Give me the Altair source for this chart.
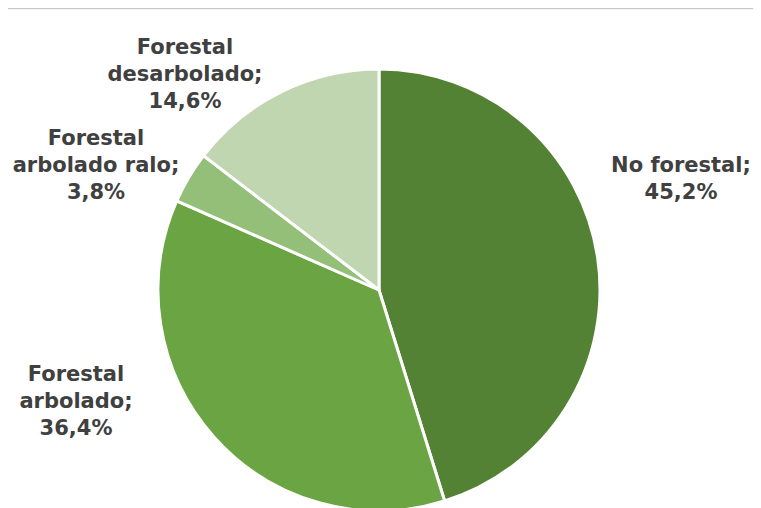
import altair as alt
import pandas as pd

categories = ["No forestal", "Forestal arbolado", "Forestal arbolado ralo", "Forestal desarbolado"]
values = [45.2, 36.4, 3.8, 14.6]
colors = ["#548235", "#6aa443", "#94bf78", "#bfd6b0"]

df = pd.DataFrame({"categoria": categories, "pct": values, "orden": list(range(len(categories)))})

W, H = 745, 500
CX, CY, R = 371, 282, 221

pie = alt.Chart(df).mark_arc(stroke="white", strokeWidth=3, radius=R).encode(
    theta=alt.Theta("pct:Q", stack=True),
    order=alt.Order("orden:Q", sort="ascending"),
    color=alt.Color("categoria:N", scale=alt.Scale(domain=categories, range=colors), legend=None),
    x=alt.value(CX),
    y=alt.value(CY),
)


def label_lines(cat, v):
    pct = f"{v:.1f}".replace(".", ",") + "%"
    if cat.startswith("Forestal "):
        return ["Forestal", cat[len("Forestal "):] + ";", pct]
    return [cat + ";", pct]


# label anchor positions (layout only)
label_pos = {
    "No forestal": (673, 158),
    "Forestal arbolado": (68, 367),
    "Forestal arbolado ralo": (88, 131),
    "Forestal desarbolado": (177, 40),
}

layers = [pie]
for cat, v in zip(categories, values):
    lx, ly = label_pos[cat]
    layers.append(
        alt.Chart(df[df.categoria == cat]).mark_text(
            font="DejaVu Sans", fontWeight="bold", fontSize=21, lineHeight=27,
            color="#404040", align="center", baseline="middle",
            text=label_lines(cat, v),
        ).encode(x=alt.value(lx), y=alt.value(ly))
    )

top_line = alt.Chart(df.head(1)).mark_rule(color="#c8c8c8", strokeWidth=1.5).encode(
    x=alt.value(0), x2=alt.value(W), y=alt.value(0.5)
)
layers.append(top_line)

chart = alt.layer(*layers).properties(
    width=W, height=H, autosize=alt.AutoSizeParams(type="none"), padding=0
).configure_view(stroke=None)

chart.save("out.html", embed_options={"renderer": "svg", "actions": False})
